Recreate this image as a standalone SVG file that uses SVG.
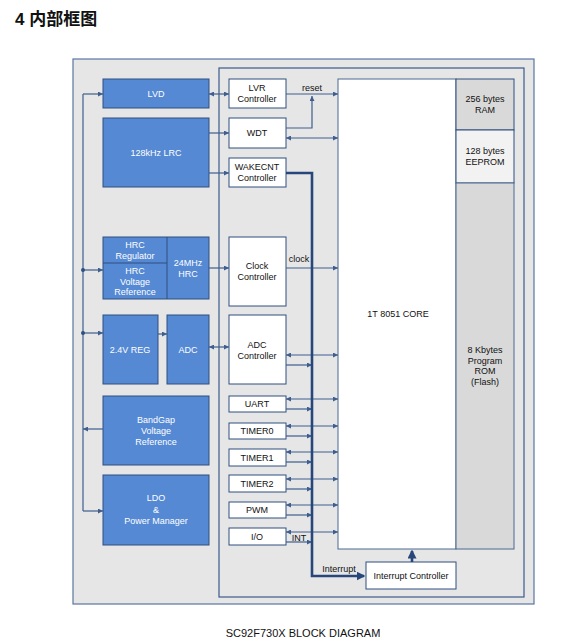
<svg xmlns="http://www.w3.org/2000/svg" width="566" height="644" viewBox="0 0 566 644">
<defs>
<style>
text{font-family:"Liberation Sans",Arial,sans-serif;font-size:9px;text-anchor:middle;fill:#111}
.blue rect{fill:#5589d4;stroke:#2f4f7f;stroke-width:1}
.blue text{fill:#fff}
.white rect{fill:#fff;stroke:#2f4f7f;stroke-width:1}
.ln{fill:none;stroke:#3d5e8e;stroke-width:1.2}
.thick{fill:none;stroke:#27477a;stroke-width:2.6}
</style>
<marker id="a" viewBox="0 0 6 6" refX="6" refY="3" markerWidth="5" markerHeight="5" orient="auto-start-reverse" markerUnits="userSpaceOnUse"><path d="M0,0 L6,3 L0,6 z" fill="#3d5e8e"/></marker>
<marker id="b" viewBox="0 0 6 6" refX="5" refY="3" markerWidth="9" markerHeight="9" orient="auto" markerUnits="userSpaceOnUse"><path d="M0,0 L6,3 L0,6 z" fill="#27477a"/></marker>
</defs>
<rect width="566" height="644" fill="#fff"/>
<text x="15" y="25" style="font-size:17px;font-weight:bold;text-anchor:start;font-family:'Liberation Sans','Noto Sans CJK SC',sans-serif">4 内部框图</text>
<g id="frame">
<rect x="73" y="59" width="461" height="545" fill="#e6e6e6" stroke="#5a76a0" stroke-width="1.2"/>
<rect x="219" y="68" width="305" height="529" fill="#e6e6e6" stroke="#3b5a8a" stroke-width="1.2"/>
</g>
<g id="core"><rect x="338" y="79" width="118" height="470" fill="#fff" stroke="#4a6890" stroke-width="1"/><text x="398" y="317">1T 8051 CORE</text></g>
<g id="ram"><rect x="456" y="79" width="58" height="51" fill="#d9d9d9" stroke="#2f4f7f"/><text x="485" y="102">256 bytes</text><text x="485" y="113">RAM</text></g>
<g id="eeprom"><rect x="456" y="130" width="58" height="53" fill="#f2f2f2" stroke="#2f4f7f"/><text x="485" y="154">128 bytes</text><text x="485" y="165">EEPROM</text></g>
<g id="rom"><rect x="456" y="183" width="58" height="366" fill="#d9d9d9" stroke="#4a6890"/><text x="485" y="353">8 Kbytes</text><text x="485" y="364">Program</text><text x="485" y="374">ROM</text><text x="485" y="385">(Flash)</text></g>
<g id="lvd" class="blue"><rect x="103" y="79" width="106" height="29"/><text x="156" y="97">LVD</text></g>
<g id="lrc" class="blue"><rect x="103" y="118" width="106" height="69"/><text x="156" y="156">128kHz LRC</text></g>
<g id="hrc" class="blue"><rect x="103" y="237" width="106" height="62"/><line x1="167" y1="237" x2="167" y2="299" stroke="#2f4f7f"/><line x1="103" y1="263" x2="167" y2="263" stroke="#2f4f7f"/>
<text x="135" y="248">HRC</text><text x="135" y="259">Regulator</text><text x="135" y="274">HRC</text><text x="135" y="285">Voltage</text><text x="135" y="295">Reference</text><text x="188" y="266">24MHz</text><text x="188" y="277">HRC</text></g>
<g id="reg" class="blue"><rect x="103" y="315" width="55" height="69"/><text x="130" y="353">2.4V REG</text></g>
<g id="adc" class="blue"><rect x="167" y="315" width="42" height="69"/><text x="188" y="353">ADC</text></g>
<g id="bandgap" class="blue"><rect x="103" y="396" width="106" height="69"/><text x="156" y="423">BandGap</text><text x="156" y="434">Voltage</text><text x="156" y="445">Reference</text></g>
<g id="ldo" class="blue"><rect x="103" y="475" width="106" height="70"/><text x="156" y="501">LDO</text><text x="156" y="513">&amp;</text><text x="156" y="524">Power Manager</text></g>
<g id="lvr" class="white"><rect x="229" y="79" width="57" height="29"/><text x="257" y="91">LVR</text><text x="257" y="102">Controller</text></g>
<g id="wdt" class="white"><rect x="229" y="118" width="57" height="30"/><text x="257" y="136">WDT</text></g>
<g id="wakecnt" class="white"><rect x="229" y="158" width="57" height="29"/><text x="257" y="170">WAKECNT</text><text x="257" y="181">Controller</text></g>
<g id="clock" class="white"><rect x="229" y="237" width="57" height="69"/><text x="257" y="269">Clock</text><text x="257" y="280">Controller</text></g>
<g id="adcctrl" class="white"><rect x="229" y="315" width="57" height="69"/><text x="257" y="348">ADC</text><text x="257" y="359">Controller</text></g>
<g id="uart" class="white"><rect x="229" y="396" width="57" height="16"/><text x="257" y="407">UART</text></g>
<g id="timer0" class="white"><rect x="229" y="423" width="57" height="16"/><text x="257" y="434">TIMER0</text></g>
<g id="timer1" class="white"><rect x="229" y="449" width="57" height="17"/><text x="257" y="461">TIMER1</text></g>
<g id="timer2" class="white"><rect x="229" y="475" width="57" height="17"/><text x="257" y="487">TIMER2</text></g>
<g id="pwm" class="white"><rect x="229" y="502" width="57" height="16"/><text x="257" y="513">PWM</text></g>
<g id="io" class="white"><rect x="229" y="528" width="57" height="17"/><text x="257" y="540">I/O</text></g>
<g id="intctrl" class="white"><rect x="366" y="562" width="90" height="27"/><text x="411" y="579">Interrupt Controller</text></g>
<g id="connectors">
<path class="ln" d="M83,94 V511"/>
<path class="ln" d="M83,94 H103" marker-end="url(#a)"/>
<path class="ln" d="M83,270 H103" marker-end="url(#a)"/>
<path class="ln" d="M83,333 H103" marker-end="url(#a)"/>
<path class="ln" d="M83,511 H103" marker-end="url(#a)"/>
<path class="ln" d="M103,429 H83" marker-end="url(#a)"/>
<circle cx="83" cy="270" r="2" fill="#2f4f7f"/>
<circle cx="83" cy="333" r="2" fill="#2f4f7f"/>
<path class="ln" d="M209,94 H229" marker-start="url(#a)" marker-end="url(#a)"/>
<path class="ln" d="M209,133 H229" marker-end="url(#a)"/>
<path class="ln" d="M209,173 H229" marker-end="url(#a)"/>
<path class="ln" d="M286,94 H338" marker-end="url(#a)"/>
<path class="ln" d="M286,128 H312 V96" marker-end="url(#a)"/>
<path class="ln" d="M286,138 H338" marker-start="url(#a)" marker-end="url(#a)"/>
<path class="ln" d="M209,268 H229" marker-end="url(#a)"/>
<path class="ln" d="M286,268 H338" marker-end="url(#a)"/>
<path class="ln" d="M158,334 H167" marker-end="url(#a)"/>
<path class="ln" d="M209,347 H229" marker-start="url(#a)" marker-end="url(#a)"/>
<path class="ln" d="M286,355 H338" marker-start="url(#a)" marker-end="url(#a)"/>
<path class="ln" d="M286,365 H312" marker-end="url(#a)"/>
<path class="ln" d="M286,399 H338" marker-start="url(#a)" marker-end="url(#a)"/>
<path class="ln" d="M286,409 H312" marker-end="url(#a)"/>
<path class="ln" d="M286,426 H338" marker-start="url(#a)" marker-end="url(#a)"/>
<path class="ln" d="M286,436 H312" marker-end="url(#a)"/>
<path class="ln" d="M286,452 H338" marker-start="url(#a)" marker-end="url(#a)"/>
<path class="ln" d="M286,462 H312" marker-end="url(#a)"/>
<path class="ln" d="M286,479 H338" marker-start="url(#a)" marker-end="url(#a)"/>
<path class="ln" d="M286,489 H312" marker-end="url(#a)"/>
<path class="ln" d="M286,505 H338" marker-start="url(#a)" marker-end="url(#a)"/>
<path class="ln" d="M286,515 H312" marker-end="url(#a)"/>
<path class="ln" d="M286,532 H338" marker-start="url(#a)" marker-end="url(#a)"/>
<path class="ln" d="M286,542 H312" marker-end="url(#a)"/>
<path class="thick" d="M286,173 H312 V576 H364" marker-end="url(#b)"/>
<path class="thick" d="M412,562 V551" marker-end="url(#b)"/>
<text x="312" y="91">reset</text>
<text x="299" y="262">clock</text>
<text x="299" y="541">INT</text>
<text x="339" y="572">Interrupt</text>
</g>
<text x="303" y="637" style="font-size:11px">SC92F730X BLOCK DIAGRAM</text>
</svg>
